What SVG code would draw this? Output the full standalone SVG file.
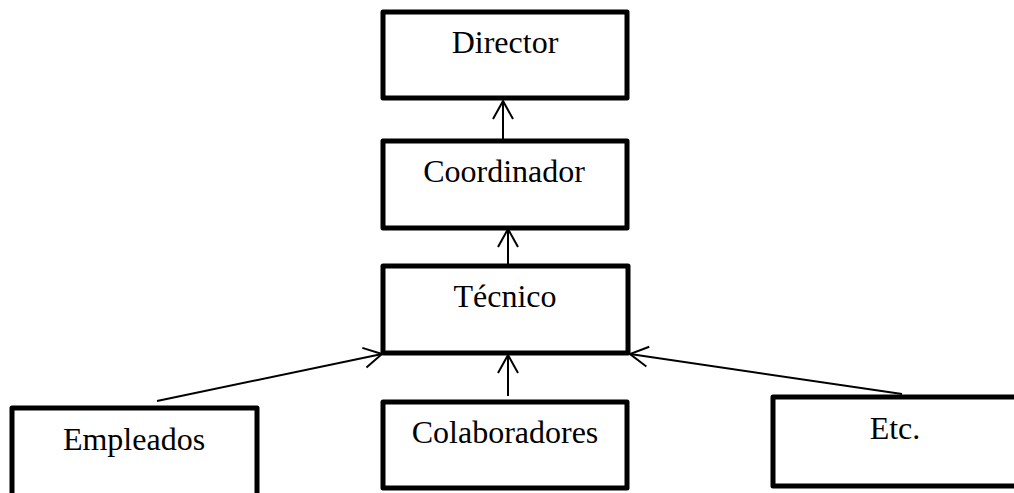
<svg xmlns="http://www.w3.org/2000/svg" width="1014" height="493" viewBox="0 0 1014 493">
  <style>
    .box { fill: #ffffff; stroke: #000000; stroke-width: 5; stroke-linejoin: round; }
    .label { font-family: "Liberation Serif", "Times New Roman", serif; font-size: 32px; fill: #000000; text-anchor: middle; }
    .link { fill: none; stroke: #000000; stroke-width: 2; marker-end: url(#open-arrow); }
  </style>
  <defs>
    <marker id="open-arrow" markerUnits="userSpaceOnUse" viewBox="-20 -12 22 24" refX="0" refY="0" markerWidth="22" markerHeight="24" orient="auto">
      <path d="M -18 -10 L 0 0 L -18 10" fill="none" stroke="#000000" stroke-width="2"/>
    </marker>
  </defs>

  <rect width="1014" height="493" fill="#ffffff"/>

  <g id="connectors">
    <line class="link" x1="503" y1="141" x2="503" y2="101"/>
    <line class="link" x1="508" y1="266" x2="508" y2="229"/>
    <line class="link" x1="508" y1="396" x2="508" y2="355"/>
    <line class="link" x1="157" y1="401" x2="382" y2="354"/>
    <line class="link" x1="902" y1="394" x2="630" y2="354"/>
  </g>

  <g id="director">
    <rect class="box" x="383" y="12" width="244" height="86"/>
    <text class="label" x="505" y="53">Director</text>
  </g>

  <g id="coordinador">
    <rect class="box" x="383" y="141" width="244" height="87"/>
    <text class="label" x="504" y="182">Coordinador</text>
  </g>

  <g id="tecnico">
    <rect class="box" x="383" y="266" width="245" height="87"/>
    <text class="label" x="505" y="307">Técnico</text>
  </g>

  <g id="empleados">
    <rect class="box" x="12" y="408" width="245" height="100"/>
    <text class="label" x="134" y="450">Empleados</text>
  </g>

  <g id="colaboradores">
    <rect class="box" x="383" y="402" width="244" height="86"/>
    <text class="label" x="505" y="443">Colaboradores</text>
  </g>

  <g id="etc">
    <rect class="box" x="773" y="397" width="260" height="89"/>
    <text class="label" x="895" y="439">Etc.</text>
  </g>
</svg>
